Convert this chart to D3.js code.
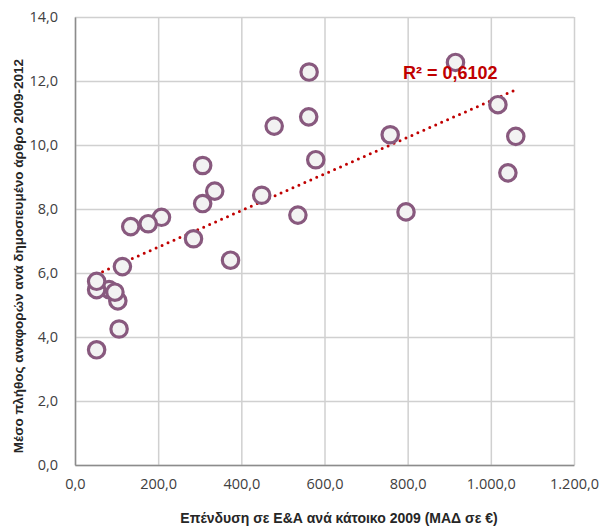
<!DOCTYPE html>
<html>
<head>
<meta charset="utf-8">
<script src="https://cdn.jsdelivr.net/npm/d3@7"></script>
<style>
  body { margin: 0; background: #fff; }
  text { font-family: "Liberation Sans", Arial, sans-serif; }
</style>
</head>
<body>
<div id="chart"></div>
<script>
// --> DATA
var investment = [52, 106, 103, 82, 96, 52, 52, 114, 285, 374,
                  563, 562, 479, 579, 307, 336, 307, 449, 536, 208,
                  176, 134, 915, 1017, 1060, 1041, 796, 758];
var citations  = [3.60, 4.25, 5.13, 5.48, 5.40, 5.48, 5.74, 6.20, 7.07, 6.40,
                  12.28, 10.88, 10.59, 9.54, 9.36, 8.56, 8.17, 8.43, 7.81, 7.74,
                  7.54, 7.45, 12.58, 11.26, 10.27, 9.13, 7.91, 10.32];
var xTicks = [0, 200, 400, 600, 800, 1000, 1200];
var yTicks = [0, 2, 4, 6, 8, 10, 12, 14];
var r2Label = "R² = 0,6102";
var xTitle = "Επένδυση σε Ε&Α ανά κάτοικο 2009 (ΜΑΔ σε €)";
var yTitle = "Μέσο πλήθος αναφορών ανά δημοσιευμένο άρθρο 2009-2012";

var width = 603,
    height = 527;
var margin = { top: 17, right: 29, bottom: 62, left: 75 };

var svg = d3.select("#chart").append("svg")
    .attr("width", width)
    .attr("height", height);

var grLocale = d3.formatLocale({ decimal: ",", thousands: ".", grouping: [3], currency: ["", "€"] });
var fmt = grLocale.format(",.1f");

var x = d3.scaleLinear().domain([0, 1200]).range([margin.left, width - margin.right]);
var y = d3.scaleLinear().domain([0, 14]).range([height - margin.bottom, margin.top]);

// gridlines
svg.append("g")
    .attr("transform", "translate(0," + (height - margin.bottom) + ")")
    .call(d3.axisBottom(x).tickValues(xTicks).tickSize(-(height - margin.top - margin.bottom)).tickFormat(""))
    .call(function(g) {
        g.select(".domain").remove();
        g.selectAll("line").attr("stroke", "#d0d0d0").attr("stroke-width", 1.5);
    });
svg.append("g")
    .attr("transform", "translate(" + margin.left + ",0)")
    .call(d3.axisLeft(y).tickValues(yTicks).tickSize(-(width - margin.left - margin.right)).tickFormat(""))
    .call(function(g) {
        g.select(".domain").remove();
        g.selectAll("line").attr("stroke", "#d0d0d0").attr("stroke-width", 1.5);
    });

// axes
var xAxis = svg.append("g")
    .attr("transform", "translate(0," + (height - margin.bottom) + ")")
    .call(d3.axisBottom(x).tickValues(xTicks).tickSize(0).tickPadding(14).tickFormat(fmt));
var yAxis = svg.append("g")
    .attr("transform", "translate(" + margin.left + ",0)")
    .call(d3.axisLeft(y).tickValues(yTicks).tickSize(0).tickPadding(17).tickFormat(fmt));

[xAxis, yAxis].forEach(function(g) {
    g.select(".domain").attr("stroke", "#8c8c8c").attr("stroke-width", 1.5);
    g.selectAll("text").attr("fill", "#404040").style("font-size", "14.5px")
        .style("font-family", "'Open Sans', sans-serif");
});

// linear trend line (least squares on the data)
var mx = d3.mean(investment), my = d3.mean(citations);
var sxy = d3.sum(investment, function(v, i) { return (v - mx) * (citations[i] - my); });
var sxx = d3.sum(investment, function(v) { return (v - mx) * (v - mx); });
var slope = sxy / sxx, intercept = my - slope * mx;
var xExt = d3.extent(investment);

svg.append("path")
    .datum(xExt)
    .attr("d", d3.line().x(function(d) { return x(d); }).y(function(d) { return y(intercept + slope * d); }))
    .attr("stroke", "#c00000")
    .attr("stroke-width", 3)
    .attr("stroke-linecap", "round")
    .attr("stroke-dasharray", "0,6.5")
    .attr("fill", "none");

// points
svg.append("g")
    .selectAll("circle")
    .data(investment)
    .enter().append("circle")
    .attr("cx", function(d) { return x(d); })
    .attr("cy", function(d, i) { return y(citations[i]); })
    .attr("r", 8.2)
    .attr("fill", "#f2f2f2")
    .attr("stroke", "#88597e")
    .attr("stroke-width", 3.2);

// R² label
svg.append("text")
    .attr("x", 403)
    .attr("y", 79)
    .attr("fill", "#c00000")
    .style("font-size", "18px")
    .style("font-weight", "bold")
    .text(r2Label);

// axis titles
svg.append("text")
    .attr("x", 339)
    .attr("y", 523)
    .attr("text-anchor", "middle")
    .attr("fill", "#262626")
    .style("font-size", "14px")
    .style("font-weight", "bold")
    .text(xTitle);

svg.append("text")
    .attr("transform", "translate(23,256) rotate(-90)")
    .attr("text-anchor", "middle")
    .attr("fill", "#262626")
    .style("font-size", "13.5px")
    .style("font-weight", "bold")
    .text(yTitle);
</script>
</body>
</html>
